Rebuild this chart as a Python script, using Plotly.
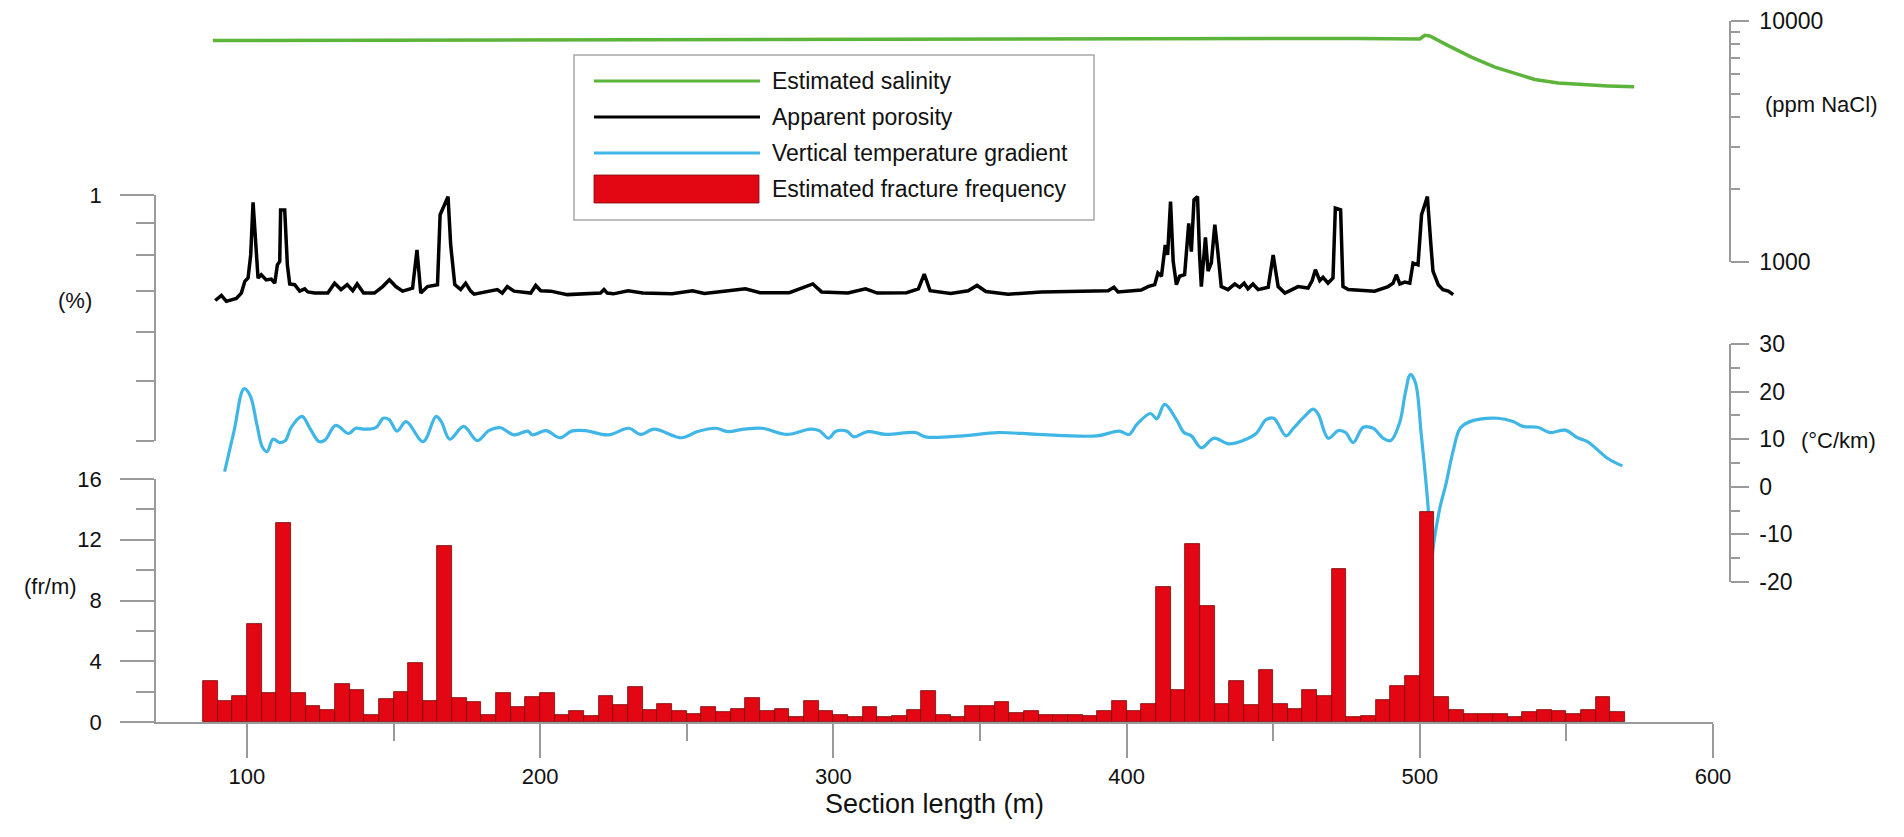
import plotly.graph_objects as go

# --- salinity (ppm NaCl), log axis
salinity_x = [88.4, 120, 150, 200, 250, 300, 350, 400, 462, 479, 500,
              501.7, 503.4, 509.7, 517.6, 525.6, 532.4, 539.2, 547.2,
              555.1, 564.2, 573.1]
salinity_val = [8300, 8320, 8340, 8370, 8390, 8410, 8430, 8450, 8470, 8470,
                8420, 8720, 8660, 7900, 7080, 6430, 6040, 5720, 5530, 5440,
                5380, 5330]

# --- apparent porosity (%), log axis
porosity_x = [
    89.2, 91.3, 93.0, 96.4, 98.1, 99.3, 100.4, 101.3, 102.1, 102.9, 103.8,
    104.9, 106.6, 108.3, 109.5, 110.4, 111.2, 111.5, 112.9, 113.8, 114.6,
    116.3, 118.0, 119.7, 120.8, 123.1, 127.6, 129.9, 132.1, 134.2, 136.1,
    137.6, 139.8, 143.5, 146.3, 148.6, 150.8, 153.1, 156.5, 158.0, 159.3,
    161.6, 165.0, 165.9, 168.6, 169.5, 170.9, 172.9, 174.6, 176.3, 177.5,
    185.4, 187.1, 188.8, 191.1, 196.8, 198.5, 200.2, 203.6, 209.3, 220.6,
    221.8, 222.9, 225, 230, 235, 245, 252, 256, 262, 270, 275, 285, 293,
    296, 305, 311, 315, 325, 329, 331, 333, 340, 346, 349, 352, 358,
    359.6, 370.9, 385.7, 393.7, 395.7, 397.1, 405.0, 407.3, 409.6, 410.7,
    411.9, 413.2, 414.0, 415.0, 415.9, 417.0, 418.1, 419.8, 421.2, 422.1,
    423.0, 424.2, 424.9, 425.5, 426.9, 427.8, 428.9, 430.1, 431.0, 432.3,
    434.6, 436.9, 438.6, 440.1, 441.4, 443.1, 444.9, 448.3, 450.0, 451.7,
    454.0, 458.5, 461.9, 463.3, 464.4, 465.9, 467.0, 468.7, 470.4, 471.2,
    473.0, 473.8, 475.6, 484.6, 489.2, 490.9, 492.0, 493.2, 494.9, 496.6,
    497.7, 499.4, 500.6, 502.6, 503.8, 504.5, 506.3, 507.9, 509.7, 511.4]
porosity_val = [
    0.675, 0.688, 0.673, 0.680, 0.694, 0.725, 0.734, 0.800, 0.973, 0.830,
    0.734, 0.743, 0.729, 0.731, 0.720, 0.771, 0.781, 0.946, 0.946, 0.771,
    0.718, 0.716, 0.699, 0.705, 0.697, 0.694, 0.694, 0.720, 0.703, 0.716,
    0.700, 0.718, 0.694, 0.694, 0.711, 0.729, 0.711, 0.699, 0.707, 0.815,
    0.694, 0.711, 0.716, 0.929, 0.994, 0.830, 0.716, 0.703, 0.720, 0.699,
    0.691, 0.703, 0.694, 0.711, 0.699, 0.694, 0.714, 0.700, 0.699, 0.690,
    0.694, 0.703, 0.694, 0.692, 0.700, 0.694, 0.692, 0.700, 0.693, 0.698,
    0.705, 0.695, 0.695, 0.718, 0.697, 0.694, 0.705, 0.694, 0.695, 0.705,
    0.745, 0.700, 0.693, 0.700, 0.714, 0.698, 0.692,
    0.691, 0.697, 0.699, 0.700, 0.709, 0.697, 0.702, 0.711, 0.716, 0.748,
    0.739, 0.830, 0.800, 0.976, 0.781, 0.716, 0.739, 0.743, 0.900, 0.810,
    0.982, 0.994, 0.800, 0.711, 0.854, 0.753, 0.776, 0.895, 0.820, 0.711,
    0.703, 0.718, 0.709, 0.720, 0.705, 0.718, 0.703, 0.709, 0.800, 0.711,
    0.694, 0.711, 0.707, 0.727, 0.757, 0.727, 0.736, 0.720, 0.734, 0.952,
    0.946, 0.711, 0.703, 0.699, 0.711, 0.720, 0.743, 0.718, 0.723, 0.720,
    0.776, 0.771, 0.929, 0.994, 0.830, 0.753, 0.716, 0.703, 0.699, 0.690]

# --- vertical temperature gradient (degC/km)
temp_x = [
    92.4, 95.6, 99.0, 101.1, 103.4, 105.3, 106.9, 108.9, 111.2, 113.1,
    115.1, 118.8, 121.4, 124.6, 126.6, 130.3, 134.7, 137.1, 140.2, 144.1,
    146.5, 148.5, 151.2, 154.3, 160.1, 164.5, 166.3, 169.2, 173.9, 178.6,
    182.5, 186.4, 191.1, 195.8, 197.4, 202.0, 206.8, 210.7, 215.4, 223.2,
    230.3, 234.2, 238.9, 248.3, 253.7, 260.0, 264.0, 269.4, 275.7, 284.2,
    292.1, 295.2, 298.4, 300.7, 304.6, 307.0, 311.7, 317.9, 328.0, 331.4,
    344.1, 356.0, 369.6, 389.9, 397.5, 400.9, 403.5, 408.2, 410.3, 413.0,
    417.0, 419.6, 422.1, 425.5, 429.8, 434.9, 440.8, 444.2, 447.6, 450.2,
    454.4, 456.9, 461.2, 463.7, 465.4, 468.8, 472.2, 474.7, 477.3, 480.7,
    484.1, 487.5, 490.1, 493.1, 495.1, 496.8, 498.5, 500.5, 502.8, 504.0,
    505.2, 507.0, 508.9, 511.4, 513.9, 518.1, 526.7, 531.8, 535.2, 540.2,
    544.5, 549.6, 553.8, 557.2, 564.0, 569.1]
temp_val = [
    3.2, 11.7, 20.6, 19.2, 13.1, 8.3, 7.4, 10.0, 9.3, 9.7,
    12.5, 14.8, 12.4, 9.5, 9.8, 12.9, 11.2, 12.3, 12.1, 12.5,
    14.4, 14.1, 11.7, 13.7, 9.5, 14.8, 13.7, 10.0, 12.7, 9.7,
    11.8, 12.4, 10.9, 11.7, 10.9, 11.8, 10.3, 11.7, 11.8, 10.9,
    12.3, 11.0, 12.1, 10.3, 11.6, 12.3, 11.6, 12.1, 12.3, 11.0,
    12.1, 11.8, 10.2, 11.6, 11.7, 10.5, 11.6, 11.0, 11.4, 10.5,
    10.7, 11.4, 11.0, 10.7, 11.7, 11.0, 13.1, 15.4, 14.3, 17.3,
    14.1, 11.4, 10.7, 8.2, 10.2, 9.0, 10.0, 11.2, 14.1, 14.4,
    10.7, 12.3, 15.1, 16.3, 15.2, 10.2, 11.8, 11.4, 9.3, 12.5,
    12.3, 10.2, 9.7, 13.4, 19.8, 23.6, 21.9, 11.0, -3.9, -14.5,
    -10.0, -4.0, 0.5, 7.6, 12.4, 13.9, 14.4, 13.7, 12.7, 12.5,
    11.4, 11.9, 10.3, 9.5, 6.0, 4.4]

# --- estimated fracture frequency (fr/m), 5 m bins starting at 85 m
fracture_bin_start = list(range(85, 570, 5))
fracture_val = [
    2.67, 1.38, 1.73, 6.47, 1.88, 13.1, 1.88, 1.05, 0.79, 2.47,
    2.10, 0.46, 1.53, 1.97, 3.87, 1.40, 11.6, 1.57, 1.29, 0.48,
    1.88, 0.98, 1.64, 1.88, 0.48, 0.70, 0.37, 1.68, 1.14, 2.32,
    0.79, 1.16, 0.74, 0.55, 0.98, 0.65, 0.83, 1.55, 0.74, 0.85,
    0.31, 1.40, 0.74, 0.46, 0.31, 0.96, 0.35, 0.37, 0.79, 2.03,
    0.48, 0.35, 1.07, 1.03, 1.29, 0.57, 0.70, 0.48, 0.48, 0.44,
    0.39, 0.70, 1.36, 0.74, 1.20, 8.9, 2.14, 11.7, 7.63, 1.20,
    2.69, 1.14, 3.41, 1.20, 0.87, 2.14, 1.70, 10.1, 0.31, 0.42,
    1.46, 2.40, 3.0, 13.8, 1.66, 0.79, 0.52, 0.52, 0.52, 0.35,
    0.63, 0.77, 0.74, 0.55, 0.79, 1.64, 0.63]

legend_labels = ['Estimated salinity', 'Apparent porosity',
                 'Vertical temperature gradient', 'Estimated fracture frequency']

GREEN = '#5db43a'
BLACK = '#000000'
BLUE = '#3fb6e6'
RED = '#e30613'
AXIS = '#9a9a9a'
FONT = 'Liberation Sans, Arial, sans-serif'

W, H = 1904, 837
L, R, T, B = 148, 182, 13, 123


def px_x(X):
    return (X - L) / (W - L - R)


def px_y(Y):
    return (H - B - Y) / (H - T - B)


fig = go.Figure()

fig.add_trace(go.Scatter(x=salinity_x, y=salinity_val, yaxis='y',
                         mode='lines', line=dict(color=GREEN, width=3.5),
                         showlegend=False))
fig.add_trace(go.Scatter(x=porosity_x, y=porosity_val, yaxis='y2',
                         mode='lines', line=dict(color=BLACK, width=3.5),
                         showlegend=False))
fig.add_trace(go.Scatter(x=temp_x, y=temp_val, yaxis='y3',
                         mode='lines', line=dict(color=BLUE, width=3.2),
                         line_shape='spline', showlegend=False))
fig.add_trace(go.Bar(x=[b + 2.5 for b in fracture_bin_start], y=fracture_val,
                     width=5, yaxis='y4',
                     marker=dict(color=RED,
                                 line=dict(color='#7a0a0a', width=0.8)),
                     showlegend=False))

tickfont = dict(family=FONT, size=22, color='#111111')
right_font = dict(family=FONT, size=23, color='#111111')
common = dict(showline=True, linecolor=AXIS, linewidth=1.5, ticks='outside',
              tickcolor=AXIS, tickwidth=1.5, showgrid=False, zeroline=False,
              automargin=False)

fig.update_layout(
    width=W, height=H,
    margin=dict(l=L, r=R, t=T, b=B, autoexpand=False),
    paper_bgcolor='white', plot_bgcolor='rgba(0,0,0,0)',
    bargap=0,
    xaxis=dict(domain=[0, px_x(1705)], range=[69, 600], anchor='y4',
               tickvals=[100, 200, 300, 400, 500, 600], ticklen=34,
               tickfont=tickfont,
               minor=dict(tickvals=[150, 250, 350, 450, 550], ticklen=17,
                          ticks='outside', tickcolor=AXIS, tickwidth=1.5),
               title=dict(text='Section length (m)',
                          font=dict(family=FONT, size=27, color='#111111'),
                          standoff=4),
               **common),
    # salinity
    yaxis=dict(domain=[px_y(254), px_y(13)], type='log', range=[3, 4],
               anchor='free', position=1, side='right',
               tickvals=[1000, 10000], ticktext=['1000', '10000'], ticklen=18,
               tickfont=right_font,
               minor=dict(tickvals=[2000, 3000, 4000, 5000, 6000, 7000,
                                    8000, 9000],
                          ticklen=9, ticks='outside', tickcolor=AXIS,
                          tickwidth=1.5),
               ticklabelstandoff=6,
               **common),
    # porosity
    yaxis2=dict(domain=[px_y(433), px_y(187)], type='log',
                range=[-0.39794, 0], anchor='x', side='left',
                tickvals=[1], ticktext=['1'], ticklen=34, tickfont=tickfont,
                minor=dict(tickvals=[0.4, 0.5, 0.6, 0.7, 0.8, 0.9],
                           ticklen=18, ticks='outside', tickcolor=AXIS,
                           tickwidth=1.5),
                ticklabelstandoff=14,
                **common),
    # temperature gradient
    yaxis3=dict(domain=[px_y(574), px_y(336)], range=[-20, 30],
                anchor='free', position=1, side='right',
                tickvals=[-20, -10, 0, 10, 20, 30],
                ticktext=['-20', '-10', '0', '10', '20', '30'], ticklen=18,
                tickfont=right_font,
                minor=dict(tickvals=[-15, -5, 5, 15, 25], ticklen=9,
                           ticks='outside', tickcolor=AXIS, tickwidth=1.5),
                ticklabelstandoff=6,
                **common),
    # fracture frequency
    yaxis4=dict(domain=[0, px_y(471)], range=[0, 16], anchor='x',
                side='left', tickvals=[0, 4, 8, 12, 16], ticklen=34,
                tickfont=tickfont,
                minor=dict(tickvals=[2, 6, 10, 14], ticklen=18,
                           ticks='outside', tickcolor=AXIS, tickwidth=1.5),
                ticklabelstandoff=14,
                **common),
)

unit_font = dict(family=FONT, size=22, color='#111111')
units = [
    ('(ppm NaCl)', 1755, 96, 'left'),
    ('(°C/km)', 1791, 432, 'left'),
    ('(%)', 67, 292, 'center'),
    ('(fr/m)', 42, 578, 'center'),
]
for text, X, Y, anchor in units:
    fig.add_annotation(text=text, x=px_x(X), y=px_y(Y), xref='paper',
                       yref='paper', xanchor=anchor, yanchor='middle',
                       showarrow=False, font=unit_font)

# legend box drawn by hand to get the long line samples
fig.add_shape(type='rect', xref='paper', yref='paper',
              x0=px_x(566), x1=px_x(1086), y0=px_y(212), y1=px_y(47),
              line=dict(color='#a8a8a8', width=1.5), fillcolor='white')
rows = [73, 109, 145, 181]
for Y, color in zip(rows[:3], [GREEN, BLACK, BLUE]):
    fig.add_shape(type='line', xref='paper', yref='paper',
                  x0=px_x(586), x1=px_x(752), y0=px_y(Y), y1=px_y(Y),
                  line=dict(color=color, width=3))
fig.add_shape(type='rect', xref='paper', yref='paper',
              x0=px_x(586), x1=px_x(751), y0=px_y(195), y1=px_y(167),
              line=dict(color='#7a0a0a', width=0.8), fillcolor=RED)
for Y, text in zip(rows, legend_labels):
    fig.add_annotation(text=text, x=px_x(762), y=px_y(Y), xref='paper',
                       yref='paper', xanchor='left', yanchor='middle',
                       showarrow=False,
                       font=dict(family=FONT, size=23, color='#111111'))

fig.write_html('out.html')
